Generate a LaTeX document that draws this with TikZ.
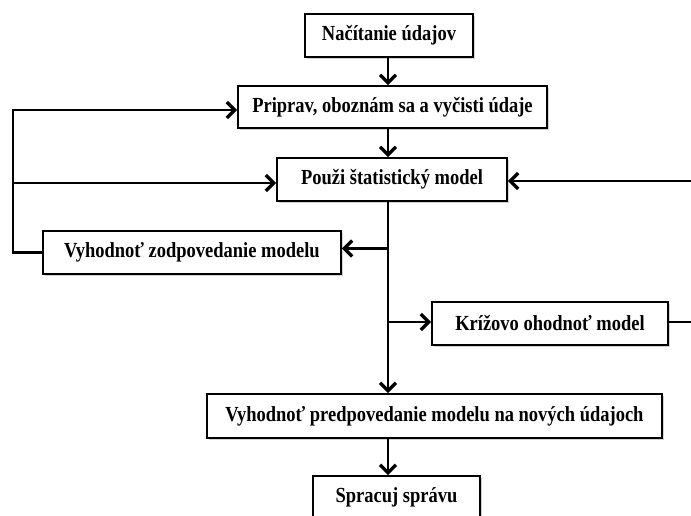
\documentclass[tikz,border=0pt]{standalone}
\usepackage{fontspec}
\setmainfont{Liberation Serif}[FakeStretch=0.86]
\usetikzlibrary{arrows.meta,shadows}
\begin{document}
\begin{tikzpicture}[x=1pt,y=-1pt,
  box/.style={draw=black, line width=1.6pt, fill=white, inner sep=0pt,
    font=\fontsize{21.5}{24}\selectfont\bfseries,
    drop shadow={shadow xshift=1.6pt, shadow yshift=-1.6pt, opacity=0.35}},
  arr/.style={line width=2.5pt, -{Straight Barb[length=8pt,width=16pt,line width=3.4pt]}}]
\useasboundingbox (0,0) rectangle (691,515);
\clip (0,0) rectangle (691,515);
\fill[white] (0,0) rectangle (691,515);
\node[box, minimum width=168pt, minimum height=43pt] (load) at (389,35.5) {Načítanie údajov};
\node[box, minimum width=309pt, minimum height=42pt] (prep) at (392.5,107) {Priprav, oboznám sa a vyčisti údaje};
\node[box, minimum width=230pt, minimum height=43pt] (use) at (392,179.5) {Použi štatistický model};
\node[box, minimum width=298pt, minimum height=43pt] (fit) at (192,252.5) {Vyhodnoť zodpovedanie modelu};
\node[box, minimum width=236pt, minimum height=43pt] (cv) at (550,323.5) {Krížovo ohodnoť model};
\node[box, minimum width=455pt, minimum height=44pt] (pred) at (434.5,416) {Vyhodnoť predpovedanie modelu na nových údajoch};
\node[box, minimum width=167pt, minimum height=43pt] (rep) at (396.5,497.5) {Spracuj správu};
\coordinate (S) at (388,0);
\coordinate (L) at (13,0);
\coordinate (R) at (720,0);
\draw[arr] (load.south -| S) -- (prep.north -| S);
\draw[arr] (prep.south -| S) -- (use.north -| S);
\draw[arr] (use.south -| S) -- (pred.north -| S);
\draw[arr] (pred.south -| S) -- (rep.north -| S);
\draw[arr] ([yshift=4pt]S |- fit.east) -- ([yshift=4pt]fit.east);
\draw[arr] ([yshift=1.5pt]S |- cv.west) -- ([yshift=1.5pt]cv.west);
\draw[arr] (fit.west) -- (fit.west -| L) |- ([yshift=-3pt]prep.west);
\draw[arr] ([yshift=-3.5pt]use.west -| L) -- ([yshift=-3.5pt]use.west);
\draw[arr] ([yshift=1.5pt]cv.east) -- ([yshift=1.5pt]cv.east -| R) |- ([yshift=-1.5pt]use.east);
\end{tikzpicture}
\end{document}
